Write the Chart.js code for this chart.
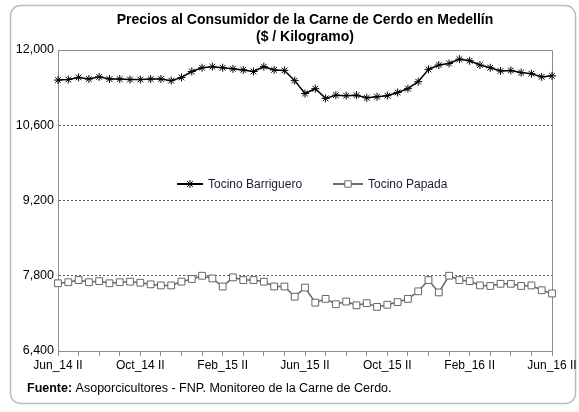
<!DOCTYPE html>
<html lang="es">
<head>
<meta charset="utf-8">
<title>Precios al Consumidor de la Carne de Cerdo en Medellín</title>
<script src="https://cdn.jsdelivr.net/npm/chart.js@4.4.1/dist/chart.umd.min.js"></script>
<style>
  html, body { margin: 0; padding: 0; background: #fff; }
  #chart-box { width: 579px; height: 412px; position: relative; }
</style>
</head>
<body>
<div id="chart-box"><canvas id="my-chart"></canvas></div>
<script>
'use strict';

// ******* DATA *********
let periodos = [
  'Jun_14 II', 'Jul_14 I', 'Jul_14 II', 'Ago_14 I', 'Ago_14 II', 'Sep_14 I', 'Sep_14 II', 'Oct_14 I',
  'Oct_14 II', 'Nov_14 I', 'Nov_14 II', 'Dic_14 I', 'Dic_14 II', 'Ene_15 I', 'Ene_15 II', 'Feb_15 I',
  'Feb_15 II', 'Mar_15 I', 'Mar_15 II', 'Abr_15 I', 'Abr_15 II', 'May_15 I', 'May_15 II', 'Jun_15 I',
  'Jun_15 II', 'Jul_15 I', 'Jul_15 II', 'Ago_15 I', 'Ago_15 II', 'Sep_15 I', 'Sep_15 II', 'Oct_15 I',
  'Oct_15 II', 'Nov_15 I', 'Nov_15 II', 'Dic_15 I', 'Dic_15 II', 'Ene_16 I', 'Ene_16 II', 'Feb_16 I',
  'Feb_16 II', 'Mar_16 I', 'Mar_16 II', 'Abr_16 I', 'Abr_16 II', 'May_16 I', 'May_16 II', 'Jun_16 I',
  'Jun_16 II'
];

let etiquetasEje = ['Jun_14 II', 'Oct_14 II', 'Feb_15 II', 'Jun_15 II', 'Oct_15 II', 'Feb_16 II', 'Jun_16 II'];

let tocinoBarriguero = [
  11440, 11450, 11490, 11460, 11500, 11460, 11460, 11450, 11450, 11460,
  11460, 11430, 11490, 11600, 11670, 11690, 11670, 11650, 11630, 11600,
  11690, 11630, 11620, 11430, 11190, 11280, 11100, 11160, 11150, 11160,
  11110, 11130, 11150, 11210, 11280, 11410, 11640, 11720, 11750, 11830,
  11800, 11720, 11670, 11610, 11620, 11580, 11560, 11500, 11520
];

let tocinoPapada = [
  7660, 7680, 7720, 7680, 7700, 7660, 7680, 7690, 7670, 7640,
  7620, 7620, 7690, 7740, 7800, 7750, 7600, 7770, 7720, 7720,
  7690, 7600, 7600, 7410, 7580, 7300, 7370, 7270, 7320, 7250,
  7290, 7220, 7260, 7310, 7370, 7510, 7720, 7490, 7800, 7720,
  7700, 7620, 7610, 7650, 7650, 7610, 7620, 7530, 7470
];

let ticksY = [6400, 7800, 9200, 10600, 12000];

// ******* DOM WINDOWS ********
let ctx = document.getElementById('my-chart');

Chart.defaults.font.family = "'Liberation Sans', Arial, sans-serif";
Chart.defaults.color = '#000';

// ****** HELPER FUNCTIONS / UTILITIES ******

function drawLegendItem(c, x1, x2, y, color, pointOpts, label) {
  c.strokeStyle = color;
  c.lineWidth = 2;
  c.beginPath();
  c.moveTo(x1, y);
  c.lineTo(x2, y);
  c.stroke();
  c.lineWidth = 1;
  c.fillStyle = '#fff';
  Chart.helpers.drawPoint(c, pointOpts, (x1 + x2) / 2, y);
  c.fillStyle = '#1c1c30';
  c.font = "12px 'Liberation Sans', Arial, sans-serif";
  c.textAlign = 'left';
  c.textBaseline = 'middle';
  c.fillText(label, x2 + 5, y + 0.5);
}

// the excel look: rounded box, plot frame, title, legend inside plot, source line
let decoPlugin = {
  id: 'deco',
  beforeDraw(chart) {
    let c = chart.ctx;
    c.save();
    c.fillStyle = '#fff';
    c.fillRect(0, 0, chart.width, chart.height);
    c.strokeStyle = '#bdbdbd';
    c.lineWidth = 1.5;
    c.beginPath();
    c.roundRect(10.5, 5.5, 565, 398, 10);
    c.stroke();
    c.restore();
  },
  beforeDatasetsDraw(chart) {
    let c = chart.ctx;
    let a = chart.chartArea;
    c.save();
    c.strokeStyle = '#8c8c8c';
    c.lineWidth = 1;
    c.beginPath();
    c.moveTo(a.left, a.top + 0.5);
    c.lineTo(a.right + 0.5, a.top + 0.5);
    c.lineTo(a.right + 0.5, a.bottom);
    c.stroke();
    c.restore();
  },
  afterDraw(chart) {
    let c = chart.ctx;
    c.save();
    c.fillStyle = '#000';
    c.textAlign = 'center';
    c.textBaseline = 'middle';
    c.font = "bold 14px 'Liberation Sans', Arial, sans-serif";
    c.fillText('Precios al Consumidor de la Carne de Cerdo en Medellín', 305, 20);
    c.fillText('($ / Kilogramo)', 305, 37);

    drawLegendItem(c, 177, 203, 184, '#000',
      { pointStyle: 'star', radius: 4, borderWidth: 1 }, 'Tocino Barriguero');
    drawLegendItem(c, 333, 363, 184, '#6b6b6b',
      { pointStyle: 'rect', radius: 4.5, borderWidth: 1 }, 'Tocino Papada');

    c.fillStyle = '#000';
    c.textAlign = 'left';
    c.font = "bold 12.5px 'Liberation Sans', Arial, sans-serif";
    c.fillText('Fuente:', 27, 389);
    let w = c.measureText('Fuente:').width;
    c.font = "12.5px 'Liberation Sans', Arial, sans-serif";
    c.fillText(' Asoporcicultores - FNP. Monitoreo de la Carne de Cerdo.', 27 + w, 389);
    c.restore();
  }
};

// ******* CHART ********
let chartObj = {
  type: 'line',
  data: {
    labels: periodos,
    datasets: [{
      label: 'Tocino Barriguero',
      data: tocinoBarriguero,
      borderColor: '#000',
      borderWidth: 1.5,
      pointStyle: 'star',
      pointRadius: 4,
      pointBorderColor: '#000',
      pointBorderWidth: 1,
      tension: 0
    },
    {
      label: 'Tocino Papada',
      data: tocinoPapada,
      borderColor: '#666',
      borderWidth: 1.5,
      pointStyle: 'rect',
      pointRadius: 4.8,
      pointBackgroundColor: '#fff',
      pointBorderColor: '#666',
      pointBorderWidth: 1,
      tension: 0
    }]
  },
  options: {
    responsive: true,
    maintainAspectRatio: false,
    animation: false,
    devicePixelRatio: 1,
    layout: { padding: { left: 0, right: 27, top: 50, bottom: 0 } },
    plugins: {
      legend: { display: false },
      title: { display: false },
      tooltip: { enabled: false }
    },
    scales: {
      x: {
        offset: false,
        afterFit: function (scale) { scale.height = 61; },
        border: { display: true, color: '#8c8c8c', width: 1 },
        grid: {
          drawOnChartArea: false,
          drawTicks: true,
          tickLength: 5,
          tickColor: function (c) { return c.index % 2 === 0 ? '#8c8c8c' : 'rgba(0,0,0,0)'; }
        },
        ticks: {
          autoSkip: false,
          maxRotation: 0,
          minRotation: 0,
          padding: 2,
          font: { size: 12 },
          color: '#000',
          callback: function (val) {
            let lab = this.getLabelForValue(val);
            return etiquetasEje.includes(lab) ? lab : '';
          }
        }
      },
      y: {
        min: ticksY[0],
        max: ticksY[ticksY.length - 1],
        afterFit: function (scale) { scale.width = 58; },
        border: { display: true, color: '#8c8c8c', width: 1, dash: [2, 2] },
        grid: {
          drawTicks: false,
          lineWidth: 1,
          color: function (c) {
            let v = c.tick ? c.tick.value : 0;
            return (v === ticksY[0] || v === ticksY[ticksY.length - 1]) ? 'rgba(0,0,0,0)' : '#5a5a5a';
          }
        },
        ticks: {
          stepSize: ticksY[1] - ticksY[0],
          padding: 4,
          font: { size: 12.5 },
          color: '#000',
          callback: function (val) { return val.toLocaleString('en-US'); }
        }
      }
    }
  },
  plugins: [decoPlugin]
};

new Chart(ctx, chartObj); //eslint-disable-line
</script>
</body>
</html>
